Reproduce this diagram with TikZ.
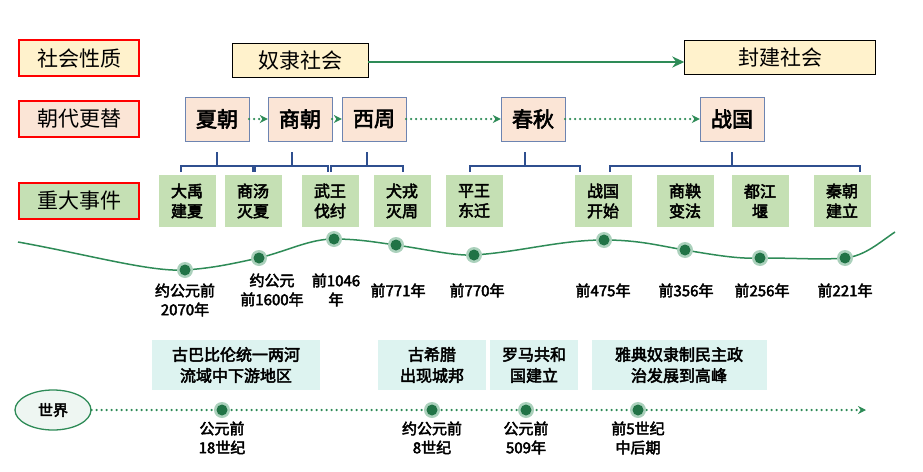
\documentclass[tikz,border=0pt]{standalone}
\usepackage{fontspec}
\setmainfont{Noto Sans CJK SC}
\newfontfamily\bcjk{Noto Sans CJK SC}[FakeBold=3]
\usetikzlibrary{arrows.meta,shapes.geometric}
\definecolor{gr}{HTML}{2E8B57}
\definecolor{dg}{HTML}{217346}
\definecolor{cream}{HTML}{FFF2CC}
\definecolor{peach}{HTML}{FBE5D6}
\definecolor{lgreen}{HTML}{C5E0B4}
\definecolor{cyanb}{HTML}{DDF3F0}
\definecolor{bl}{HTML}{2F4F8F}
\begin{document}
\begin{tikzpicture}[x=1pt,y=-1pt,
  cat/.style={draw=red,line width=1.3pt,minimum width=120pt,minimum height=36pt,font=\fontsize{21}{21}\selectfont},
  soc/.style={draw=black,fill=cream,minimum height=34pt,font=\fontsize{21}{21}\selectfont},
  dyn/.style={draw=bl!70,fill=peach,minimum width=64pt,minimum height=44pt,font=\bcjk\fontsize{21}{21}\selectfont},
  ev/.style={fill=lgreen,minimum width=57pt,minimum height=52pt,align=center,font=\bcjk\fontsize{16}{20}\selectfont},
  wv/.style={fill=cyanb,minimum height=50pt,align=center,font=\bcjk\fontsize{16}{21}\selectfont},
  dt/.style={align=center,font=\bcjk\fontsize{15}{19}\selectfont,anchor=north},
  brk/.style={draw=bl,line width=1.2pt},
  dotarr/.style={draw=gr,line width=2.5pt,line cap=round,dash pattern=on 0pt off 5pt,-{Stealth[length=8pt,width=8pt]}}]
\useasboundingbox (0,0) rectangle (923,471);
\newcommand\dotp[2]{\fill[gr!40] (#1,#2) circle (8pt);\fill[dg] (#1,#2) circle (5.5pt);}
% categories
\node[cat,fill=cream] (c1) at (79,58) {社会性质};
\node[cat,fill=peach] (c2) at (79,119) {朝代更替};
\node[cat,fill=lgreen] (c3) at (79,201) {重大事件};
% society
\node[soc,minimum width=136pt] (s1) at (300,60) {奴隶社会};
\node[soc,minimum width=191pt] (s2) at (780,57) {封建社会};
\draw[gr,line width=2.5pt,-{Stealth[length=12pt,width=11pt]}] (s1.east|-0,62) -- (s2.west|-0,62);
% dynasties
\node[dyn] (d1) at (217,119) {夏朝};
\node[dyn] (d2) at (300,119) {商朝};
\node[dyn] (d3) at (374,119) {西周};
\node[dyn] (d4) at (533,119) {春秋};
\node[dyn] (d5) at (732,119) {战国};
\draw[dotarr] (d1) -- (d2);
\draw[dotarr] (d2) -- (d3);
\draw[dotarr] (d3) -- (d4);
\draw[dotarr] (d4) -- (d5);
% brackets
\draw[brk] (181,172) -- (181,166) -- (253,166) -- (253,172) (217,166) -- (217,152);
\draw[brk] (255,172) -- (255,166) -- (328,166) -- (328,172) (292,166) -- (292,152);
\draw[brk] (331,172) -- (331,166) -- (403,166) -- (403,172) (367,166) -- (367,152);
\draw[brk] (470,172) -- (470,166) -- (580,166) -- (580,172) (525,166) -- (525,152);
\draw[brk] (610,172) -- (610,166) -- (860,166) -- (860,172) (732,166) -- (732,152);
% events
\node[ev] (e1) at (187,201) {大禹\\建夏};
\node[ev] (e2) at (253,201) {商汤\\灭夏};
\node[ev] (e3) at (330,201) {武王\\伐纣};
\node[ev] (e4) at (402,201) {犬戎\\灭周};
\node[ev] (e5) at (474,201) {平王\\东迁};
\node[ev] (e6) at (603,201) {战国\\开始};
\node[ev] (e7) at (685,201) {商鞅\\变法};
\node[ev] (e8) at (760,201) {都江\\堰};
\node[ev] (e9) at (842,201) {秦朝\\建立};
% wave
\draw[gr,line width=1.5pt] (18,242) .. controls (90,255) and (150,272) .. (185,270)
  .. controls (215,268) and (235,263) .. (259,258)
  .. controls (290,250) and (310,239) .. (334,239)
  .. controls (360,239) and (380,243) .. (396,245)
  .. controls (430,250) and (455,256) .. (474,255)
  .. controls (520,252) and (560,240) .. (604,240)
  .. controls (640,240) and (660,246) .. (685,250)
  .. controls (720,256) and (740,259) .. (760,258)
  .. controls (800,258) and (820,260) .. (845,258)
  .. controls (865,256) and (880,242) .. (895,232);
\dotp{185}{270}\dotp{259}{258}\dotp{334}{239}\dotp{396}{245}\dotp{474}{255}\dotp{604}{240}\dotp{685}{250}\dotp{760}{258}\dotp{845}{258}
\node[dt] (t1) at (185,280) {约公元前\\2070年};
\node[dt] (t2) at (272,270) {约公元\\前1600年};
\node[dt] (t3) at (336,270) {前1046\\年};
\node[dt] (t4) at (398,280) {前771年};
\node[dt] (t5) at (477,280) {前770年};
\node[dt] (t6) at (603,280) {前475年};
\node[dt] (t7) at (686,280) {前356年};
\node[dt] (t8) at (762,280) {前256年};
\node[dt] (t9) at (845,280) {前221年};
% world
\node[wv,minimum width=168pt] (w1) at (236,365) {古巴比伦统一两河\\流域中下游地区};
\node[wv,minimum width=108pt] (w2) at (432,365) {古希腊\\出现城邦};
\node[wv,minimum width=88pt] (w3) at (534,365) {罗马共和\\国建立};
\node[wv,minimum width=175pt] (w4) at (679,365) {雅典奴隶制民主政\\治发展到高峰};
\node[ellipse,draw=gr,line width=1.3pt,fill=gr!8,minimum width=76pt,minimum height=40pt,font=\bcjk\fontsize{15}{15}\selectfont] (wd) at (53,410) {世界};
\coordinate (wend) at (866,410);
\draw[dotarr] (wd) -- (wend);
\dotp{222}{410}\dotp{432}{410}\dotp{526}{410}\dotp{638}{410}
\node[dt] (u1) at (222,418) {公元前\\18世纪};
\node[dt] (u2) at (432,418) {约公元前\\8世纪};
\node[dt] (u3) at (526,418) {公元前\\509年};
\node[dt] (u4) at (638,418) {前5世纪\\中后期};
\end{tikzpicture}
\end{document}
